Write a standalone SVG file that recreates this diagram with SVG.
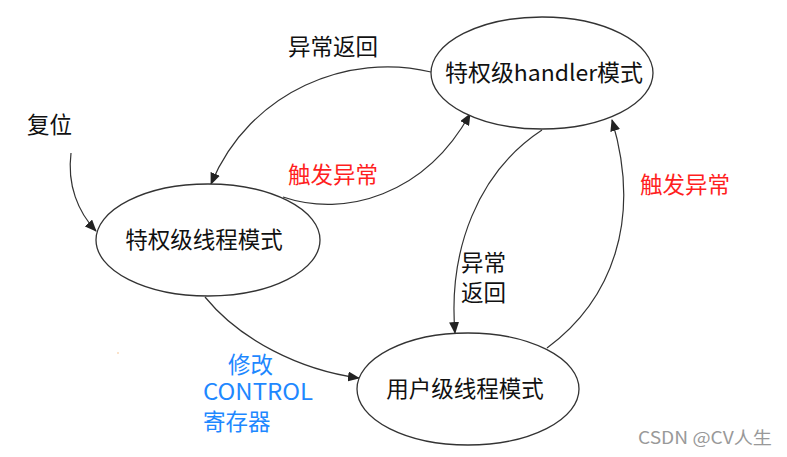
<svg xmlns="http://www.w3.org/2000/svg" width="787" height="457" viewBox="0 0 787 457">
<style>
text{font-family:"Noto Sans CJK SC","Microsoft YaHei",sans-serif;font-size:22.5px;fill:#111;}
.node ellipse{fill:#fff;stroke:#333;stroke-width:1.3;}
.edge{fill:none;stroke:#333;stroke-width:1.2;marker-end:url(#ah);}
.red{fill:#ff1f1f;}
.blue{fill:#1e88ff;}
.wm{fill:#999;font-size:17px;}
</style>
<defs>
<marker id="ah" viewBox="0 0 12 10" refX="11" refY="5" markerWidth="12" markerHeight="10" markerUnits="userSpaceOnUse" orient="auto">
<path d="M0,0 L12,5 L0,10 Z" fill="#222"/>
</marker>
</defs>
<rect width="787" height="457" fill="#fff"/>
<g id="connectors">
<path class="edge" d="M71,153 C67,185 78,212 96,231"/>
<path class="edge" d="M431,72 C350,52 250,90 211,184"/>
<path class="edge" d="M283,197 C345,218 425,195 470,114"/>
<path class="edge" d="M542,130 C478,172 448,250 455,333"/>
<path class="edge" d="M547,348 C612,300 642,220 612,120"/>
<path class="edge" d="M205,297 C240,340 300,370 359,378"/>
</g>
<g id="node-handler" class="node">
<ellipse cx="542" cy="73" rx="111" ry="56"/>
<text x="544" y="81" text-anchor="middle" textLength="198" lengthAdjust="spacingAndGlyphs">特权级handler模式</text>
</g>
<g id="node-thread-priv" class="node">
<ellipse cx="208" cy="240" rx="112" ry="56"/>
<text x="204" y="248" text-anchor="middle">特权级线程模式</text>
</g>
<g id="node-thread-user" class="node">
<ellipse cx="468" cy="389" rx="111" ry="56"/>
<text x="465" y="397" text-anchor="middle">用户级线程模式</text>
</g>
<g id="labels">
<text x="288" y="55">异常返回</text>
<text x="27" y="133">复位</text>
<text class="red" x="288" y="183">触发异常</text>
<text class="red" x="640" y="193">触发异常</text>
<text x="461" y="271">异常</text>
<text x="461" y="301">返回</text>
<text class="blue" x="228" y="373">修改</text>
<text class="blue" x="203" y="400" textLength="110" lengthAdjust="spacingAndGlyphs">CONTROL</text>
<text class="blue" x="203" y="430">寄存器</text>
<text class="wm" x="638" y="444" textLength="134" lengthAdjust="spacingAndGlyphs">CSDN @CV人生</text>
<circle cx="118" cy="353" r="0.8" fill="#f5c08a"/>
</g>
</svg>
